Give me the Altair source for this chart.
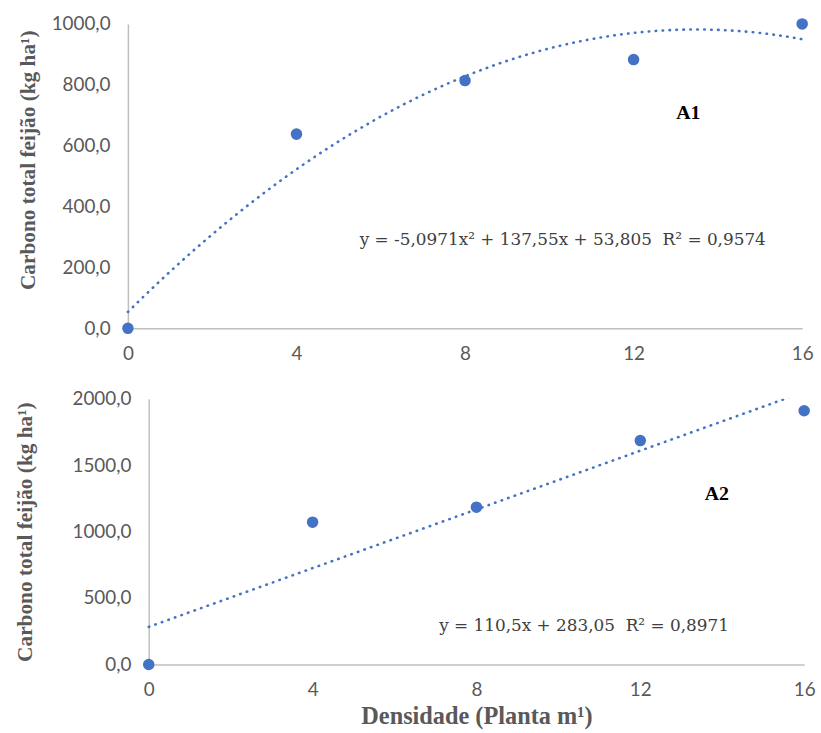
import altair as alt
import pandas as pd

# Plant density (plants per m²) and total bean carbon (kg/ha)
densidade = [0, 4, 8, 12, 16]
carbono_a1 = [0, 638, 814, 883, 1000]
carbono_a2 = [0, 1071, 1184, 1685, 1910]

# Fitted trend lines as published
coef_a1 = [-5.0971, 137.55, 53.805]   # quadratic: a, b, c
coef_a2 = [110.5, 283.05]             # linear: slope, intercept
NB = "\u00a0"
eq_a1 = f"y = -5,0971x² + 137,55x + 53,805{NB}{NB}R² = 0,9574"
eq_a2 = f"y = 110,5x + 283,05{NB}{NB}R² = 0,8971"

x_ticks = [0, 4, 8, 12, 16]
y_ticks_a1 = [0, 200, 400, 600, 800, 1000]
y_ticks_a2 = [0, 500, 1000, 1500, 2000]

titulo_y = "Carbono total feijão (kg ha¹)"
titulo_x = "Densidade (Planta m¹)"

BLUE = "#4472C4"
LABEL_FONT = "Lato"
SERIF = "Liberation Serif"
EQ_FONT = "DejaVu Serif"
comma_fmt = "replace(format(datum.value, '.1f'), '.', ',')"

pts_a1 = pd.DataFrame({"densidade": densidade, "carbono": carbono_a1})
pts_a2 = pd.DataFrame({"densidade": densidade, "carbono": carbono_a2})


def x_enc(show_title, x_range):
    kw = dict(values=x_ticks, tickSize=0, labelPadding=16, labelFontSize=19,
              labelColor="#595959", labelFont=LABEL_FONT, labelFlush=False,
              grid=False, domain=True)
    if show_title:
        kw.update(title=titulo_x, titleFont=SERIF, titleFontSize=24.5,
                  titleColor="#595959", titleFontWeight="bold", titlePadding=6)
    else:
        kw.update(title=None)
    return alt.X("densidade:Q",
                 scale=alt.Scale(domain=[0, 16], nice=False, range=x_range),
                 axis=alt.Axis(**kw))


def y_enc(domain, ticks, title_pad, offset=0, title_y=None):
    kw = dict(values=ticks, labelExpr=comma_fmt, tickSize=0, labelPadding=18,
              labelFontSize=19, labelColor="#595959", labelFont=LABEL_FONT,
              grid=False, domain=True, offset=offset, title=titulo_y,
              titleFont=SERIF, titleFontSize=21.5, titleColor="#595959",
              titleFontWeight="bold", titlePadding=title_pad)
    if title_y is not None:
        kw["titleY"] = title_y
    return alt.Y("carbono:Q", scale=alt.Scale(domain=domain, nice=False),
                 axis=alt.Axis(**kw))


def label(text, x, y, size, color, font, weight="normal", align="left"):
    return alt.Chart(pd.DataFrame({"t": [text]})).mark_text(
        font=font, fontSize=size, color=color, fontWeight=weight,
        align=align, baseline="middle"
    ).encode(x=alt.datum(x), y=alt.datum(y), text="t:N")


# Panel A1: quadratic response
trend_a1 = alt.Chart(alt.sequence(0, 16.01, 0.1, as_="densidade")).transform_calculate(
    carbono=f"{coef_a1[0]}*datum.densidade*datum.densidade + {coef_a1[1]}*datum.densidade + {coef_a1[2]}"
).mark_line(color=BLUE, strokeWidth=2.6, strokeDash=[0.5, 6.5], strokeCap="round").encode(
    x=x_enc(False, [0, 680]), y=y_enc([0, 1000], y_ticks_a1, 12, title_y=137)
)
dots_a1 = alt.Chart(pts_a1).mark_point(filled=True, size=135, color=BLUE, opacity=1).encode(
    x="densidade:Q", y="carbono:Q"
)
top = alt.layer(
    trend_a1, dots_a1,
    label(eq_a1, 5.5, 290, 17, "#404040", EQ_FONT),
    label("A1", 13.3, 707, 20, "#000000", SERIF, "bold", "center"),
).properties(width=680, height=307)

# Panel A2: linear response (plot area starts 21 px further right)
trend_a2 = alt.Chart(alt.sequence(0, 16.01, 0.1, as_="densidade")).transform_calculate(
    carbono=f"{coef_a2[0]}*datum.densidade + {coef_a2[1]}"
).mark_line(color=BLUE, strokeWidth=2.6, strokeDash=[0.5, 6.5], strokeCap="round",
            clip=True).encode(
    x=x_enc(True, [21, 682]), y=y_enc([0, 2000], y_ticks_a2, 36, offset=-21)
)
dots_a2 = alt.Chart(pts_a2).mark_point(filled=True, size=135, color=BLUE, opacity=1).encode(
    x="densidade:Q", y="carbono:Q"
)
bottom = alt.layer(
    trend_a2, dots_a2,
    label(eq_a2, 7.09, 292, 17, "#404040", EQ_FONT),
    label("A2", 13.87, 1281, 20, "#000000", SERIF, "bold", "center"),
).properties(width=682, height=268)

chart = alt.ConcatChart(concat=[top, bottom], columns=1, spacing=27).configure(
    padding={"left": 14, "top": 12, "right": 5, "bottom": 5},
    background="white",
).configure_view(stroke=None).configure_axis(
    domainColor="#BFBFBF", domainWidth=1.5
)

chart.save("out.html", embed_options={"renderer": "svg", "actions": False})
